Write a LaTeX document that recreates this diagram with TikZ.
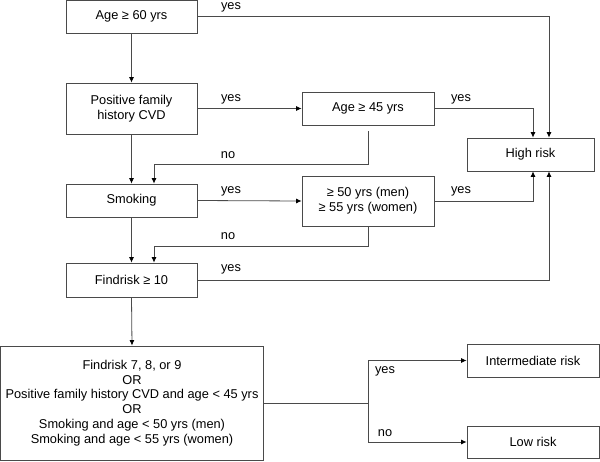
\documentclass[tikz,border=0pt]{standalone}
\usepackage{fontspec}
\setmainfont{Liberation Sans}
\usetikzlibrary{arrows.meta}
\definecolor{linec}{HTML}{4A4A4A}
\tikzset{
  box/.style={draw=linec, line width=0.8pt, inner sep=0pt, align=center, font=\fontsize{12.8}{14.8}\selectfont, text=black},
  conn/.style={draw=linec, line width=0.8pt},
  arr/.style={conn, -{Latex[length=5.5pt,width=5pt,color=black]}},
  lbl/.style={font=\fontsize{12.8}{14.8}\selectfont, inner sep=0pt, text=black}
}
\begin{document}
\begin{tikzpicture}[x=1pt,y=-1pt]
\useasboundingbox (0,0) rectangle (600,461);
% boxes
\node[box, minimum width=131pt, minimum height=32.5pt] (A) at (131.5,16.8) {Age ≥ 60 yrs};
\node[box, minimum width=131pt, minimum height=51pt] (B) at (131.5,108.5) {Positive family\\history CVD};
\node[box, minimum width=131pt, minimum height=33pt] (C) at (131.5,200.5) {Smoking};
\node[box, minimum width=131pt, minimum height=34pt] (D) at (131.5,280) {Findrisk ≥ 10};
\node[box, minimum width=263pt, minimum height=114pt] (E) at (132,403) {Findrisk 7, 8, or 9\\OR\\Positive family history CVD and age {<} 45 yrs\\OR\\Smoking and age {<} 50 yrs (men)\\Smoking and age {<} 55 yrs (women)};
\node[box, minimum width=132pt, minimum height=33pt] (F) at (368,108.5) {Age ≥ 45 yrs};
\node[box, minimum width=132pt, minimum height=50pt] (G) at (368,201) {≥ 50 yrs (men)\\≥ 55 yrs (women)};
\node[box, minimum width=127pt, minimum height=33pt] (H) at (530.5,154.5) {High risk};
\node[box, minimum width=132pt, minimum height=33pt] (I) at (533,360.5) {Intermediate risk};
\node[box, minimum width=132pt, minimum height=32pt] (J) at (533,442) {Low risk};
% coordinates
\coordinate (c1) at (549,16.8);
\coordinate (c2) at (533,108.5);
\coordinate (c3) at (368,164);
\coordinate (c4) at (154,164);
\coordinate (c5) at (533,201);
\coordinate (c6) at (368,246);
\coordinate (c7) at (154,246);
\coordinate (c8) at (549,280);
\coordinate (c9) at (368,403);
\coordinate (c10) at (368,360.5);
\coordinate (c11) at (368,442);
% connectors
\draw[arr] (A.east) -- (c1) -- (c1 |- H.north);
\draw[arr] (A.south) -- (B.north);
\draw[arr] (B.east) -- (F.west);
\draw[arr] (F.east) -- (c2) -- (c2 |- H.north);
\draw[arr] ([yshift=-6pt]F.south) -- (c3) -- (c4) -- (c4 |- C.north);
\draw[arr] (B.south) -- (C.north);
\draw[arr] (C.east) -- (G.west);
\draw[arr] (G.east) -- (c5) -- (c5 |- H.south);
\draw[arr] (G.south) -- (c6) -- (c7) -- (c7 |- D.north);
\draw[arr] (C.south) -- (D.north);
\draw[arr] (D.east) -- (c8) -- (c8 |- H.south);
\draw[arr] (D.south) -- (E.north);
\draw[conn] (E.east) -- (c9);
\draw[arr] (c9) -- (c10) -- (I.west);
\draw[arr] (c9) -- (c11) -- (J.west);
% labels
\node[lbl] (l1) at (231,7) {yes};
\node[lbl] (l2) at (231,99) {yes};
\node[lbl] (l3) at (461,99) {yes};
\node[lbl] (l4) at (228,155) {no};
\node[lbl] (l5) at (231,191) {yes};
\node[lbl] (l6) at (461,191) {yes};
\node[lbl] (l7) at (228,236) {no};
\node[lbl] (l8) at (231,269) {yes};
\node[lbl] (l9) at (385,371) {yes};
\node[lbl] (l10) at (385,433) {no};
\end{tikzpicture}
\end{document}
